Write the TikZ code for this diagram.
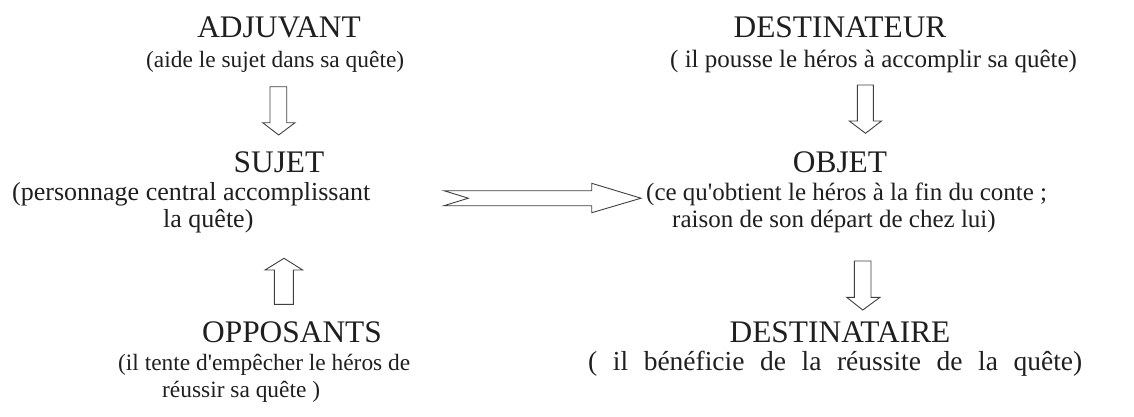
\documentclass[tikz,border=0pt]{standalone}
\usepackage{fontspec}
\setmainfont{Liberation Serif}
\begin{document}
\begin{tikzpicture}[x=1pt,y=-1pt,
  title/.style={font=\fontsize{31.4}{36}\selectfont, text=black!88, inner sep=0pt, anchor=base},
  sub/.style={font=\fontsize{23.4}{27}\selectfont, text=black!88, inner sep=0pt, anchor=base west},
  subb/.style={font=\fontsize{25}{29}\selectfont, text=black!88, inner sep=0pt, anchor=base west},
  subc/.style={font=\fontsize{26}{29}\selectfont, text=black!88, inner sep=0pt, anchor=base west},
  subd/.style={font=\fontsize{27.5}{31}\selectfont, text=black!88, inner sep=0pt, anchor=base west},
  blockarrow/.style={draw=black!75, line width=0.9pt, fill=white, line join=miter}]
\useasboundingbox (0,0) rectangle (1134,416);
% left column
\node[title] (adj) at (279,37) {ADJUVANT};
\node[sub] (adjs) at (146,67) {(aide le sujet dans sa quête)};
\node[title] (suj) at (279,172) {SUJET};
\node[subc] (suja) at (12,200) {(personnage central accomplissant};
\node[subc] (sujb) at (163,227) {la quête)};
\node[title] (opp) at (292,342) {OPPOSANTS};
\node[sub] (oppa) at (118,370) {(il tente d\textquotesingle empêcher le héros de};
\node[sub] (oppb) at (162,397) {réussir sa quête )};
% right column
\node[title] (dest) at (840,37) {DESTINATEUR};
\node[subb] (dests) at (670,67) {( il pousse le héros à accomplir sa quête)};
\node[title] (obj) at (840,172) {OBJET};
\node[subb] (obja) at (646,200) {(ce qu\textquotesingle obtient le héros à la fin du conte ;};
\node[subb] (objb) at (672,227) {raison de son départ de chez lui)};
\node[title] (dtr) at (840,342) {DESTINATAIRE};
\node[subd] (dtrs) at (588,370) {\makebox[494pt][s]{( il bénéficie de la réussite de la quête)}};
% block arrows
\draw[blockarrow] (270,86.7) -- (286.7,86.7) -- (286.7,122.7) -- (295,122.7) -- (278.7,135) -- (262.7,122.7) -- (270,122.7) -- cycle;
\draw[blockarrow] (857.3,85) -- (873.3,85) -- (873.3,121) -- (881.5,121) -- (865.5,133.3) -- (849.3,121) -- (857.3,121) -- cycle;
\draw[blockarrow] (274.3,304.3) -- (293.3,304.3) -- (293.3,270) -- (302.7,270) -- (284,258.3) -- (265,270) -- (274.3,270) -- cycle;
\draw[blockarrow] (854.3,261) -- (871,261) -- (871,297.3) -- (880,297.3) -- (862.7,310) -- (846.7,297.3) -- (854.3,297.3) -- cycle;
\draw[blockarrow] (444,190.7) -- (468.3,198.2) -- (444,205.7) -- (591.7,205.7) -- (591.7,212.7) -- (641,198.2) -- (591.7,183.3) -- (591.7,190.7) -- cycle;
\end{tikzpicture}
\end{document}
